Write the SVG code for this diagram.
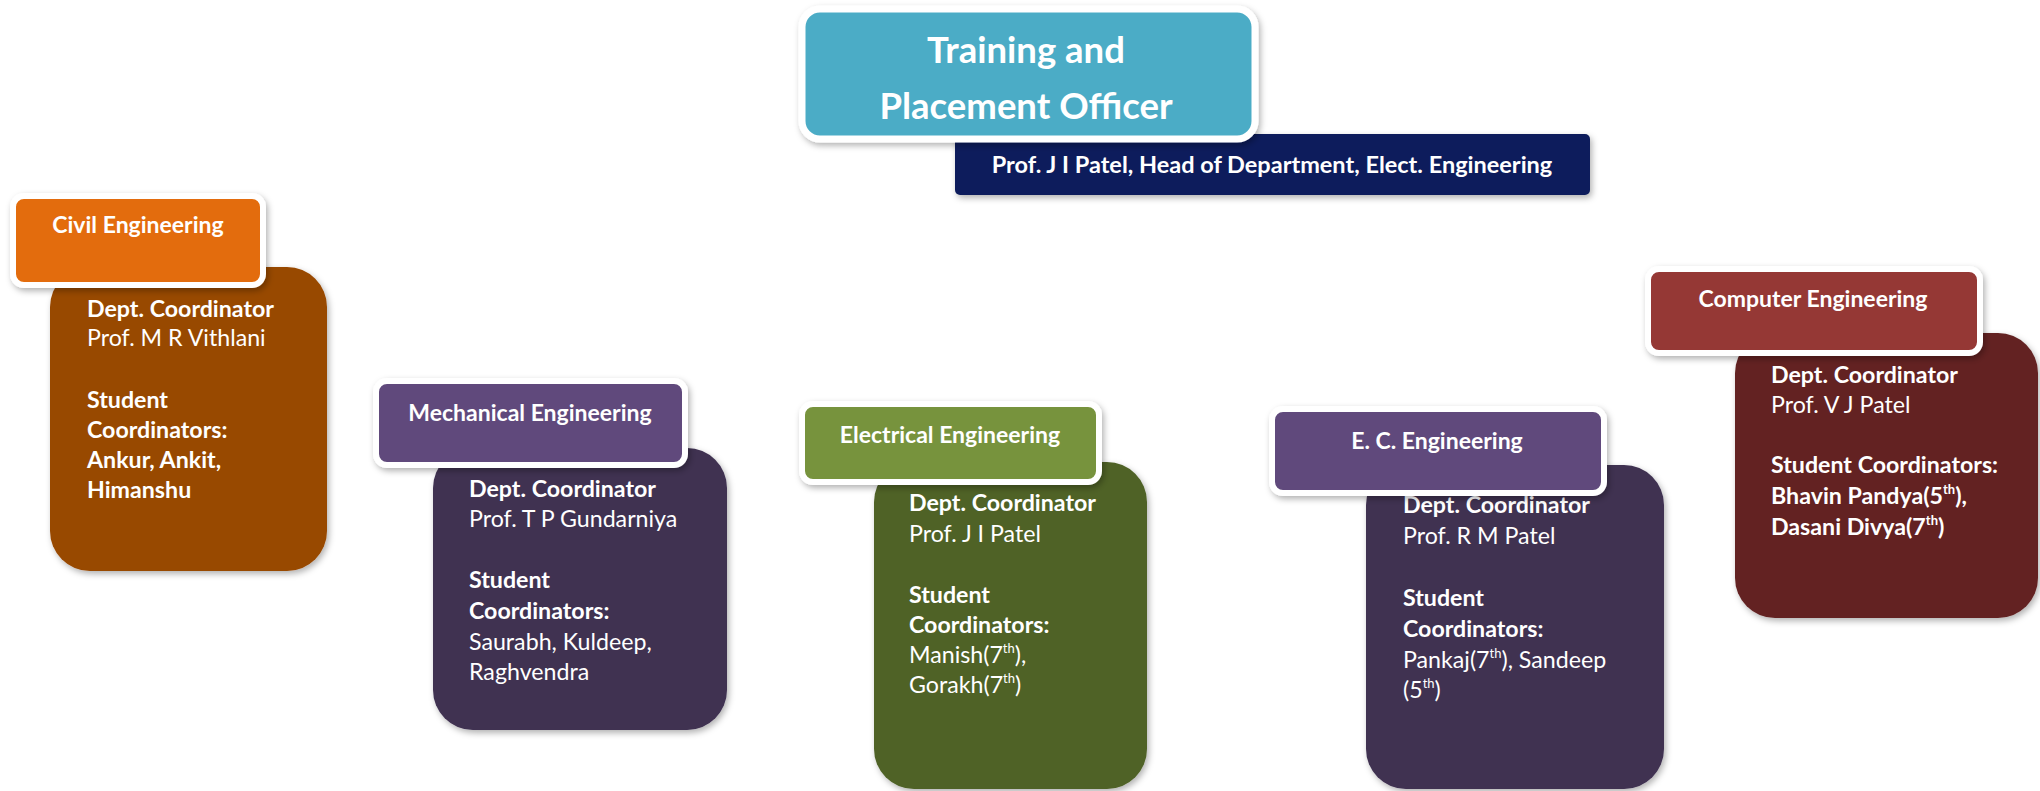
<svg xmlns="http://www.w3.org/2000/svg" width="2040" height="791" viewBox="0 0 2040 791">
<defs>
<filter id="sh" x="-10%" y="-10%" width="125%" height="130%">
<feDropShadow dx="2" dy="3" stdDeviation="3" flood-color="#000" flood-opacity="0.3"/>
</filter>
</defs>
<style>
text{font-family:Lato,"Open Sans","Liberation Sans",sans-serif;fill:#fff}
.hd{stroke:#fff;stroke-width:6}
.ht{font-size:23px;font-weight:bold;text-anchor:middle}
.b{font-size:23.2px;font-weight:bold}
.r{font-size:23.2px;font-weight:normal}
.sup{font-size:13px}
</style>
<rect width="2040" height="791" fill="#fff"/>
<g id="connectors"></g>

<g id="head-of-dept">
<rect x="955" y="134" width="635" height="61" rx="5" fill="#0f1f5c" filter="url(#sh)"/>
<text x="1272" y="173" style="font-size:23.5px;font-weight:bold;text-anchor:middle">Prof. J I Patel, Head of Department, Elect. Engineering</text>
</g>
<g id="tpo">
<rect x="802" y="9" width="453" height="130" rx="18" fill="#4bacc6" stroke="#fff" stroke-width="7" filter="url(#sh)"/>
<text x="1026" y="63" style="font-size:36.5px;font-weight:bold;text-anchor:middle">Training and</text>
<text x="1026" y="119" style="font-size:36.5px;font-weight:bold;text-anchor:middle">Placement Officer</text>
</g>

<g id="civil">
<rect x="50" y="267" width="277" height="304" rx="40" fill="#984806" filter="url(#sh)"/>
<text x="87" y="317" class="b">Dept. Coordinator</text>
<text x="87" y="346" class="r">Prof. M R Vithlani</text>
<text x="87" y="408" class="b">Student</text>
<text x="87" y="438" class="b">Coordinators:</text>
<text x="87" y="468" class="b">Ankur, Ankit,</text>
<text x="87" y="498" class="b">Himanshu</text>
<rect x="13" y="196" width="250" height="89" rx="11" fill="#e36c09" class="hd" filter="url(#sh)"/>
<text x="138" y="233" class="ht">Civil Engineering</text>
</g>

<g id="mechanical">
<rect x="433" y="448" width="294" height="282" rx="40" fill="#3f3151" filter="url(#sh)"/>
<text x="469" y="497" class="b">Dept. Coordinator</text>
<text x="469" y="527" class="r">Prof. T P Gundarniya</text>
<text x="469" y="588" class="b">Student</text>
<text x="469" y="619" class="b">Coordinators:</text>
<text x="469" y="650" class="r">Saurabh, Kuldeep,</text>
<text x="469" y="680" class="r">Raghvendra</text>
<rect x="376" y="381" width="309" height="84" rx="11" fill="#604a7b" class="hd" filter="url(#sh)"/>
<text x="530" y="421" class="ht">Mechanical Engineering</text>
</g>

<g id="electrical">
<rect x="874" y="462" width="273" height="327" rx="40" fill="#4f6228" filter="url(#sh)"/>
<text x="909" y="511" class="b">Dept. Coordinator</text>
<text x="909" y="542" class="r">Prof. J I Patel</text>
<text x="909" y="603" class="b">Student</text>
<text x="909" y="633" class="b">Coordinators:</text>
<text x="909" y="663" class="r">Manish(7<tspan class="sup" dy="-10">th</tspan><tspan dy="10">),</tspan></text>
<text x="909" y="693" class="r">Gorakh(7<tspan class="sup" dy="-10">th</tspan><tspan dy="10">)</tspan></text>
<rect x="802" y="404" width="297" height="78" rx="11" fill="#77933c" class="hd" filter="url(#sh)"/>
<text x="950" y="443" class="ht">Electrical Engineering</text>
</g>

<g id="ec">
<rect x="1366" y="465" width="298" height="324" rx="40" fill="#3f3151" filter="url(#sh)"/>
<text x="1403" y="513" class="b">Dept. Coordinator</text>
<text x="1403" y="544" class="r">Prof. R M Patel</text>
<text x="1403" y="606" class="b">Student</text>
<text x="1403" y="637" class="b">Coordinators:</text>
<text x="1403" y="668" class="r">Pankaj(7<tspan class="sup" dy="-10">th</tspan><tspan dy="10">), Sandeep</tspan></text>
<text x="1403" y="698" class="r">(5<tspan class="sup" dy="-10">th</tspan><tspan dy="10">)</tspan></text>
<rect x="1272" y="409" width="332" height="84" rx="11" fill="#604a7b" class="hd" filter="url(#sh)"/>
<text x="1437" y="449" class="ht">E. C. Engineering</text>
</g>

<g id="computer">
<rect x="1735" y="333" width="303" height="285" rx="40" fill="#632423" filter="url(#sh)"/>
<text x="1771" y="383" class="b">Dept. Coordinator</text>
<text x="1771" y="413" class="r">Prof. V J Patel</text>
<text x="1771" y="473" class="b">Student Coordinators:</text>
<text x="1771" y="504" class="b">Bhavin Pandya(5<tspan class="sup" dy="-10">th</tspan><tspan dy="10">),</tspan></text>
<text x="1771" y="535" class="b">Dasani Divya(7<tspan class="sup" dy="-10">th</tspan><tspan dy="10">)</tspan></text>
<rect x="1648" y="269" width="332" height="84" rx="11" fill="#953735" class="hd" filter="url(#sh)"/>
<text x="1813" y="307" class="ht">Computer Engineering</text>
</g>
</svg>
